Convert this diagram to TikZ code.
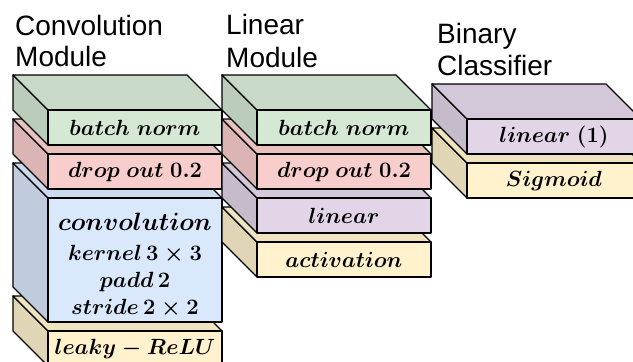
\documentclass[tikz,border=0pt]{standalone}
\usepackage{fix-cm}
\usepackage{fontspec}
\setsansfont{Liberation Sans}

\definecolor{greenF}{HTML}{D5E8D4}
\definecolor{pinkF}{HTML}{F8CECC}
\definecolor{blueF}{HTML}{DAE8FC}
\definecolor{purpleF}{HTML}{E1D5E7}
\definecolor{yellowF}{HTML}{FFF2CC}

\tikzset{
  face/.style={draw=black, line width=1.4pt, line join=round},
  front/.style={face, rectangle, inner sep=0pt, outer sep=0pt,
    minimum width=174pt, anchor=north west, align=center,
    font=\boldmath\fontsize{22}{27}\selectfont},
  title/.style={font=\sffamily\fontsize{28}{30}\selectfont,
    anchor=base west, inner sep=0pt},
}

% one layer drawn as a cuboid seen from the upper left:
% #1 name, #2 x and #3 y of the front face's upper left corner,
% #4 front height, #5 colour, #6 label
\newcommand\layer[6]{%
  \filldraw[face, fill=#5!88!black]
    (#2,#3) -- ++(-35,-35) -- ++(0,#4) -- ++(35,35) -- cycle;
  \filldraw[face, fill=#5!94!black]
    (#2,#3) -- ++(-35,-35) -- ++(174,0) -- ++(35,35) -- cycle;
  \node[front, fill=#5, minimum height=#4] (#1) at (#2,#3) {#6};
}

\begin{document}
\begin{tikzpicture}[x=1pt, y=-1pt]
\useasboundingbox (0,0) rectangle (633,362);
\clip (0,0) rectangle (633,362);

% column titles
\node[title] (convT1) at (15,35) {Convolution};
\node[title] (convT2) at (15,66) {Module};
\node[title] (linT1) at (226,34) {Linear};
\node[title] (linT2) at (226,67) {Module};
\node[title] (binT1) at (437,43) {Binary};
\node[title] (binT2) at (437,75) {Classifier};

% convolution module, bottom layer first
\layer{convRL}{48}{331}{35}{yellowF}{$leaky-ReLU$}
\layer{convCV}{48}{198}{124}{blueF}{%
  \rule{0pt}{28pt}{\fontsize{25}{28}\selectfont$convolution$}\\[3pt]
  $kernel\,3\times3$\\
  $padd\,2$\\
  $stride\,2\times2$}
\layer{convDO}{48}{154}{35}{pinkF}{$drop\ out\ 0.2$}
\layer{convBN}{48}{110}{35}{greenF}{$batch\;norm$}

% linear module
\layer{linAC}{257}{242}{35}{yellowF}{$activation$}
\layer{linLN}{257}{198}{35}{purpleF}{$linear$}
\layer{linDO}{257}{154}{35}{pinkF}{$drop\ out\ 0.2$}
\layer{linBN}{257}{110}{35}{greenF}{$batch\;norm$}

% binary classifier
\layer{binSG}{467}{163}{35}{yellowF}{$Sigmoid$}
\layer{binLN}{467}{119}{35}{purpleF}{$linear\ (1)$}
\end{tikzpicture}
\end{document}
